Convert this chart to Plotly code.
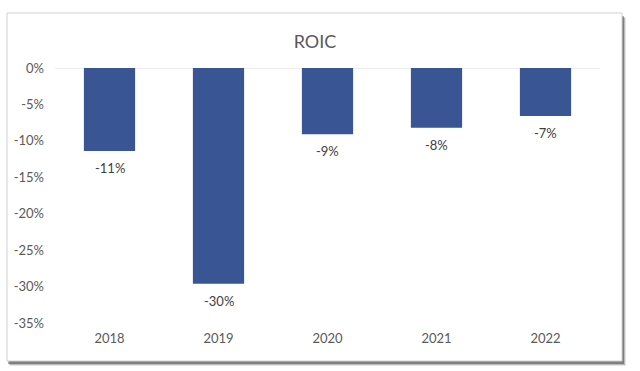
import plotly.graph_objects as go

years = ["2018", "2019", "2020", "2021", "2022"]
roic = [-11.4, -29.6, -9.1, -8.2, -6.6]
labels = ["-11%", "-30%", "-9%", "-8%", "-7%"]
yticks = [0, -5, -10, -15, -20, -25, -30, -35]
yticklabels = ["0%", "-5%", "-10%", "-15%", "-20%", "-25%", "-30%", "-35%"]

W, H = 640, 371
ML, MR, MT, MB = 55, 40, 68, 48
PW, PH = W - ML - MR, H - MT - MB

def px(x):
    return (x - ML) / PW

def py(y):
    return (H - MB - y) / PH

FONT = "Lato, Open Sans, sans-serif"
GREY = "#595959"

fig = go.Figure()
fig.add_trace(go.Bar(
    x=years, y=roic,
    marker=dict(color="#3A5594", line=dict(width=0)),
    width=0.47, hoverinfo="skip",
))

for i, (v, lab) in enumerate(zip(roic, labels)):
    fig.add_annotation(x=i, y=v, xref="x", yref="y", text=lab, showarrow=False,
                       yanchor="top", yshift=-7,
                       font=dict(family=FONT, size=13, color="#404040"))

shapes = []
# shadow
for off, col in [(5, "rgba(0,0,0,0.10)"), (4, "rgba(0,0,0,0.18)"), (3, "rgba(0,0,0,0.32)")]:
    shapes.append(dict(type="rect", xref="paper", yref="paper", layer="below",
                       x0=px(7 + off - 2), x1=px(622 + off - 1), y0=py(361 + off), y1=py(13 + off),
                       line=dict(width=0), fillcolor=col))
shapes.append(dict(type="rect", xref="paper", yref="paper", layer="below",
                   x0=px(7), x1=px(622), y0=py(361), y1=py(13),
                   line=dict(width=1, color="#D0D0D0"), fillcolor="white"))
# zero line
shapes.append(dict(type="line", xref="paper", yref="y", layer="below",
                   x0=0, x1=1, y0=0, y1=0, line=dict(width=1, color="#D9D9D9")))

fig.update_layout(
    width=W, height=H,
    margin=dict(l=ML, r=MR, t=MT, b=MB),
    paper_bgcolor="white", plot_bgcolor="rgba(0,0,0,0)",
    showlegend=False,
    shapes=shapes,
    title=dict(text="ROIC", xref="container", x=315 / W, xanchor="center",
               yref="container", y=1 - 42 / H, yanchor="middle",
               font=dict(family=FONT, size=18, color=GREY)),
    xaxis=dict(type="category", range=[-0.5, len(years) - 0.5],
               showgrid=False, zeroline=False, showline=False, ticks="",
               tickfont=dict(family=FONT, size=13, color=GREY), ticklabelstandoff=6),
    yaxis=dict(range=[-35, 0], tickvals=yticks, ticktext=yticklabels,
               showgrid=False, zeroline=False, showline=False, ticks="",
               tickfont=dict(family=FONT, size=13, color=GREY), ticklabelstandoff=10),
)

fig.write_html("out.html", config={"displayModeBar": False},
               post_script="document.body.style.margin='0';")
